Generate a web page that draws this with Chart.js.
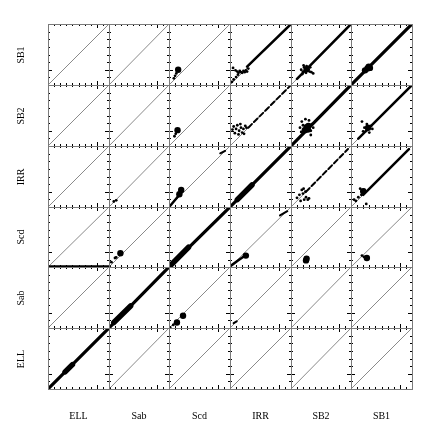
<!DOCTYPE html>
<html>
<head>
<meta charset="utf-8">
<script src="https://cdn.jsdelivr.net/npm/chart.js@4.4.0/dist/chart.umd.min.js"></script>
<style>
  html, body { margin: 0; padding: 0; background: #fff; }
  #wrap { position: relative; width: 436px; height: 436px; overflow: hidden; background: #fff; }
  #wrap canvas { position: absolute; }
  .lab { position: absolute; font: 10px "Liberation Serif", "DejaVu Serif", serif; color: #000; white-space: nowrap; }
</style>
</head>
<body>
<div id="wrap"></div>
<script>
// templates along the columns (x) and down the rows (y)
const colTemplates = ['ELL', 'Sab', 'Scd', 'IRR', 'SB2', 'SB1'];
const rowTemplates = ['SB1', 'SB2', 'IRR', 'Scd', 'Sab', 'ELL'];

// tick positions (same axis range 0..1 in every panel)
const xMinorTicks = [0.1, 0.2, 0.3, 0.4, 0.5, 0.6, 0.7, 0.8, 0.9];
const yMinorTicks = [0.125, 0.25, 0.375, 0.5, 0.625, 0.75, 0.875];
const xMajorTicks = [0.8];
const yMajorTicks = [0.25];
const diagonal = [[0, 0], [1, 1]];

// --- SB1 row
const sb1_scd_clumps = [[0.15, 0.25]];
const sb1_scd_dots = [[0.12, 0.19], [0.1, 0.15], [0.08, 0.11]];
const sb1_irr_track = [[0.28, 0.3], [1, 1]];
const sb1_irr_dots = [[0.05, 0.28], [0.09, 0.24], [0.12, 0.22], [0.14, 0.2], [0.16, 0.23], [0.18, 0.21],
  [0.2, 0.2], [0.22, 0.23], [0.24, 0.21], [0.26, 0.24], [0.28, 0.22], [0.3, 0.27], [0.1, 0.13],
  [0.06, 0.09], [0.03, 0.05], [0.13, 0.17]];
const sb1_sb2_track = [[0.1, 0.1], [1, 1]];
const sb1_sb2_clumps = [[0.26, 0.26]];
const sb1_sb2_dots = [[0.17, 0.25], [0.2, 0.22], [0.22, 0.29], [0.24, 0.24], [0.26, 0.31], [0.29, 0.26],
  [0.31, 0.22], [0.32, 0.29], [0.25, 0.2], [0.21, 0.32], [0.34, 0.21], [0.19, 0.18], [0.37, 0.19]];
const sb1_sb1_band = [[0, 0], [1, 1]];
const sb1_sb1_clumps = [[0.23, 0.24], [0.27, 0.27], [0.31, 0.28], [0.29, 0.3]];

// --- SB2 row
const sb2_scd_clumps = [[0.14, 0.26]];
const sb2_scd_dots = [[0.11, 0.2], [0.09, 0.16]];
const sb2_irr_trail = [[0.3, 0.3], [1, 1]];
const sb2_irr_dots = [[0.06, 0.32], [0.1, 0.28], [0.12, 0.34], [0.15, 0.25], [0.18, 0.3], [0.2, 0.22],
  [0.22, 0.28], [0.25, 0.33], [0.08, 0.21], [0.14, 0.19], [0.27, 0.3], [0.17, 0.36], [0.04, 0.27], [0.23, 0.2]];
const sb2_sb2_band = [[0, 0], [1, 1]];
const sb2_sb2_clumps = [[0.23, 0.26], [0.26, 0.31], [0.29, 0.33], [0.28, 0.27]];
const sb2_sb2_dots = [[0.15, 0.3], [0.18, 0.4], [0.2, 0.2], [0.33, 0.25], [0.35, 0.36], [0.3, 0.42],
  [0.24, 0.44], [0.37, 0.3], [0.17, 0.23], [0.33, 0.18], [0.2, 0.34]];
const sb2_sb1_track = [[0.12, 0.12], [1, 1]];
const sb2_sb1_clumps = [[0.28, 0.3]];
const sb2_sb1_dots = [[0.18, 0.4], [0.22, 0.3], [0.25, 0.25], [0.3, 0.22], [0.33, 0.33], [0.35, 0.28],
  [0.2, 0.24], [0.26, 0.36]];

// --- IRR row
const irr_sab_dots = [[0.08, 0.09], [0.12, 0.11]];
const irr_scd_track = [[0.02, 0.02], [0.12, 0.14], [0.2, 0.24]];
const irr_scd_clumps = [[0.2, 0.28], [0.17, 0.21]];
const irr_scd_dash = [[0.84, 0.88], [0.92, 0.92]];
const irr_irr_band = [[0, 0], [1, 1]];
const irr_irr_core = [[0.12, 0.12], [0.36, 0.36]];
const irr_sb2_trail = [[0.25, 0.25], [0.95, 0.95]];
const irr_sb2_dots = [[0.1, 0.15], [0.14, 0.2], [0.18, 0.28], [0.2, 0.22], [0.22, 0.12], [0.25, 0.16],
  [0.28, 0.12], [0.3, 0.14], [0.21, 0.3], [0.24, 0.25], [0.16, 0.1]];
const irr_sb1_track = [[0.2, 0.2], [0.95, 0.95]];
const irr_sb1_clumps = [[0.2, 0.26]];
const irr_sb1_dots = [[0.15, 0.3], [0.18, 0.26], [0.12, 0.16], [0.08, 0.1], [0.25, 0.05], [0.05, 0.12],
  [0.22, 0.28], [0.17, 0.2]];

// --- Scd row
const scd_ell_track = [[0, 0.01], [1, 0.01]];
const scd_sab_clumps = [[0.19, 0.23]];
const scd_sab_dots = [[0.01, 0.01], [0.04, 0.08], [0.1, 0.15], [0.12, 0.16]];
const scd_scd_band = [[0, 0], [1, 1]];
const scd_scd_core = [[0.01, 0.01], [0.32, 0.33]];
const scd_irr_track = [[0, 0.01], [0.12, 0.1], [0.22, 0.17]];
const scd_irr_clumps = [[0.26, 0.19]];
const scd_irr_dash = [[0.82, 0.86], [0.94, 0.93]];
const scd_sb2_clumps = [[0.26, 0.14], [0.25, 0.11]];
const scd_sb1_clumps = [[0.26, 0.15]];
const scd_sb1_dots = [[0.18, 0.19], [0.21, 0.17]];

// --- Sab row
const sab_ell_dots = [[0, 0.02]];
const sab_sab_band = [[0, 0], [1, 1]];
const sab_sab_core = [[0.08, 0.09], [0.36, 0.36]];
const sab_scd_dots = [[0.02, 0.01], [0.07, 0.05]];
const sab_scd_clumps = [[0.13, 0.09], [0.23, 0.2]];
const sab_irr_dash = [[0.06, 0.08], [0.11, 0.11]];

// --- ELL row
const ell_ell_band = [[0, 0], [1, 1]];
const ell_ell_core = [[0.28, 0.28], [0.4, 0.4]];
const ell_sab_dots = [[0.01, 0.01]];

const panels = {
  'SB1|Scd': { clumps: sb1_scd_clumps, dots: sb1_scd_dots },
  'SB1|IRR': { track: sb1_irr_track, dots: sb1_irr_dots },
  'SB1|SB2': { track: sb1_sb2_track, clumps: sb1_sb2_clumps, dots: sb1_sb2_dots },
  'SB1|SB1': { band: sb1_sb1_band, clumps: sb1_sb1_clumps },
  'SB2|Scd': { clumps: sb2_scd_clumps, dots: sb2_scd_dots },
  'SB2|IRR': { trail: sb2_irr_trail, dots: sb2_irr_dots },
  'SB2|SB2': { band: sb2_sb2_band, clumps: sb2_sb2_clumps, dots: sb2_sb2_dots },
  'SB2|SB1': { track: sb2_sb1_track, clumps: sb2_sb1_clumps, dots: sb2_sb1_dots },
  'IRR|Sab': { dots: irr_sab_dots },
  'IRR|Scd': { track: irr_scd_track, clumps: irr_scd_clumps, dash: irr_scd_dash },
  'IRR|IRR': { band: irr_irr_band, core: irr_irr_core },
  'IRR|SB2': { trail: irr_sb2_trail, dots: irr_sb2_dots },
  'IRR|SB1': { track: irr_sb1_track, clumps: irr_sb1_clumps, dots: irr_sb1_dots },
  'Scd|ELL': { track: scd_ell_track },
  'Scd|Sab': { clumps: scd_sab_clumps, dots: scd_sab_dots },
  'Scd|Scd': { band: scd_scd_band, core: scd_scd_core },
  'Scd|IRR': { track: scd_irr_track, clumps: scd_irr_clumps, dash: scd_irr_dash },
  'Scd|SB2': { clumps: scd_sb2_clumps },
  'Scd|SB1': { clumps: scd_sb1_clumps, dots: scd_sb1_dots },
  'Sab|ELL': { dots: sab_ell_dots },
  'Sab|Sab': { band: sab_sab_band, core: sab_sab_core },
  'Sab|Scd': { dots: sab_scd_dots, clumps: sab_scd_clumps },
  'Sab|IRR': { dash: sab_irr_dash },
  'ELL|ELL': { band: ell_ell_band, core: ell_ell_core },
  'ELL|Sab': { dots: ell_sab_dots }
};

// panel edges in the page (pixels)
const xEdges = [48, 109, 169, 230, 291, 351, 412];
const yEdges = [24, 85, 146, 207, 267, 328, 389];

const toXY = arr => arr.map(p => ({ x: p[0], y: p[1] }));

// frame + inward ticks on all four sides
const frameTicks = {
  id: 'frameTicks',
  afterDatasetsDraw(chart) {
    const { ctx, chartArea: a, scales: { x, y } } = chart;
    ctx.save();
    ctx.lineWidth = 1;
    ctx.strokeStyle = '#000';
    ctx.beginPath();
    const xt = (vals, len) => vals.forEach(v => {
      const px = Math.round(x.getPixelForValue(v)) + 0.5;
      ctx.moveTo(px, a.bottom); ctx.lineTo(px, a.bottom - len);
      ctx.moveTo(px, a.top); ctx.lineTo(px, a.top + len);
    });
    const yt = (vals, len) => vals.forEach(v => {
      const py = Math.round(y.getPixelForValue(v)) + 0.5;
      ctx.moveTo(a.left, py); ctx.lineTo(a.left + len, py);
      ctx.moveTo(a.right, py); ctx.lineTo(a.right - len, py);
    });
    xt(xMinorTicks, 2); yt(yMinorTicks, 2);
    xt(xMajorTicks, 4); yt(yMajorTicks, 4);
    ctx.stroke();
    ctx.strokeStyle = '#7a7a7a';
    ctx.strokeRect(a.left + 0.5, a.top + 0.5, a.right - a.left, a.bottom - a.top);
    ctx.restore();
  }
};

const wrap = document.getElementById('wrap');

function lineSet(data, width, dash) {
  return { data: toXY(data), showLine: true, pointRadius: 0, borderColor: '#000',
    borderWidth: width, borderDash: dash || [], borderCapStyle: 'round', clip: false, order: 1 };
}
function pointSet(data, r) {
  return { data: toXY(data), showLine: false, pointRadius: r, pointBorderWidth: 0,
    backgroundColor: '#000', borderColor: '#000', clip: false, order: 0 };
}

rowTemplates.forEach((rowName, r) => {
  colTemplates.forEach((colName, c) => {
    const w = xEdges[c + 1] - xEdges[c];
    const h = yEdges[r + 1] - yEdges[r];
    const cv = document.createElement('canvas');
    cv.width = w + 1; cv.height = h + 1;
    cv.style.left = xEdges[c] + 'px'; cv.style.top = yEdges[r] + 'px';
    cv.style.width = (w + 1) + 'px'; cv.style.height = (h + 1) + 'px';
    wrap.appendChild(cv);

    const p = panels[rowName + '|' + colName] || {};
    const datasets = [
      { data: toXY(diagonal), showLine: true, pointRadius: 0, borderColor: '#8a8a8a', borderWidth: 1, order: 5 }
    ];
    if (p.band) datasets.push(lineSet(p.band, 3.2));
    if (p.core) datasets.push(lineSet(p.core, 5.5));
    if (p.track) datasets.push(lineSet(p.track, 2.5));
    if (p.trail) datasets.push(lineSet(p.trail, 2, [5, 3]));
    if (p.dash) datasets.push(lineSet(p.dash, 2));
    if (p.clumps) datasets.push(pointSet(p.clumps, 3.2));
    if (p.dots) datasets.push(pointSet(p.dots, 1.4));

    new Chart(cv, {
      type: 'scatter',
      data: { datasets },
      options: {
        responsive: false,
        animation: false,
        devicePixelRatio: 1,
        layout: { autoPadding: false, padding: { left: 0, top: 0, right: 1, bottom: 1 } },
        plugins: { legend: { display: false }, tooltip: { enabled: false } },
        scales: {
          x: { type: 'linear', min: 0, max: 1, display: false },
          y: { type: 'linear', min: 0, max: 1, display: false }
        }
      },
      plugins: [frameTicks]
    });
  });
});

// axis names
rowTemplates.forEach((name, r) => {
  const d = document.createElement('div');
  d.className = 'lab';
  d.textContent = name;
  const cy = (yEdges[r] + yEdges[r + 1]) / 2;
  d.style.left = '20px'; d.style.top = cy + 'px';
  d.style.transform = 'translate(-50%, -50%) rotate(-90deg)';
  wrap.appendChild(d);
});
colTemplates.forEach((name, c) => {
  const d = document.createElement('div');
  d.className = 'lab';
  d.textContent = name;
  const cx = (xEdges[c] + xEdges[c + 1]) / 2;
  d.style.left = cx + 'px'; d.style.top = '415px';
  d.style.transform = 'translate(-50%, -50%)';
  wrap.appendChild(d);
});
</script>
</body>
</html>
